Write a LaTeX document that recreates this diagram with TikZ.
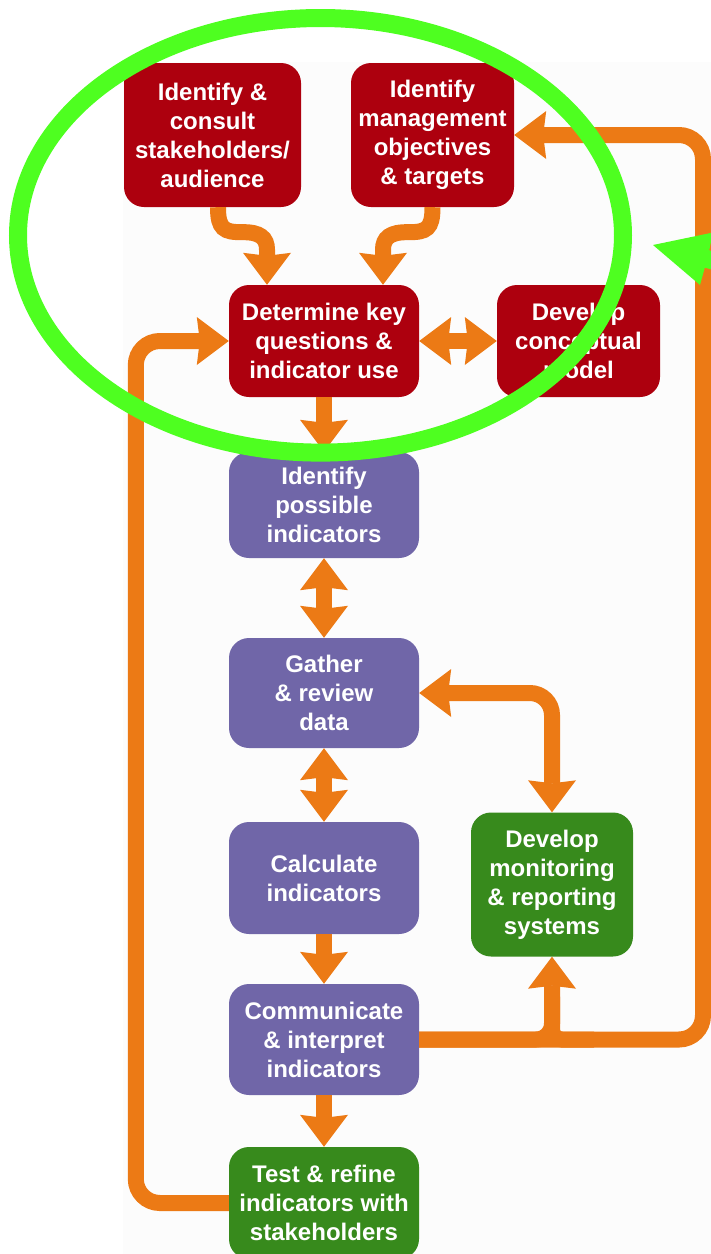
\documentclass[tikz,border=0pt]{standalone}
\usepackage{fontspec}
\setmainfont{Liberation Sans}
\usetikzlibrary{arrows.meta,calc}
\definecolor{boxred}{RGB}{173,0,14}
\definecolor{boxpurple}{RGB}{112,102,168}
\definecolor{boxgreen}{RGB}{55,138,28}
\definecolor{arrorange}{RGB}{236,122,21}
\definecolor{limemark}{RGB}{78,255,32}
\definecolor{panelgray}{RGB}{252,252,252}
\tikzset{
  box/.style={rounded corners=20pt, inner sep=0pt, align=center, text=white,
    font=\fontsize{24}{29}\selectfont\bfseries},
  redbox/.style={box, fill=boxred},
  purplebox/.style={box, fill=boxpurple},
  greenbox/.style={box, fill=boxgreen},
  conn/.style={draw=arrorange, line width=16pt},
  arrtip/.tip={Stealth[length=32pt,width=48pt,inset=3pt,line width=0pt]},
  arr/.style={conn, -arrtip},
  arrtwo/.style={conn, arrtip-arrtip},
}
\begin{document}
\begin{tikzpicture}[x=1pt,y=-1pt]
\useasboundingbox (0,0) rectangle (711,1254);
\clip (0,0) rectangle (711,1254);
\fill[white] (0,0) rectangle (711,1254);
\fill[panelgray] (123,62) rectangle (711,1254);

% boxes
\node[redbox, minimum width=177pt, minimum height=144pt] (A) at (212.5,135) {Identify \&\\consult\\stakeholders/\\audience};
\node[redbox, minimum width=163pt, minimum height=144pt] (B) at (432.5,135) {Identify\\management\\objectives\\\& targets};
\node[redbox, minimum width=190pt, minimum height=112pt] (C) at (324,341) {Determine key\\questions \&\\indicator use};
\node[redbox, minimum width=163pt, minimum height=112pt] (D) at (578.5,341) {Develop\\conceptual\\model};
\node[purplebox, minimum width=190pt, minimum height=106pt] (E) at (324,505) {Identify\\possible\\indicators};
\node[purplebox, minimum width=190pt, minimum height=110pt] (F) at (324,693) {Gather\\\& review\\data};
\node[purplebox, minimum width=190pt, minimum height=112pt] (G) at (324,878) {Calculate\\indicators};
\node[greenbox, minimum width=162pt, minimum height=144pt] (H) at (552,884.5) {Develop\\monitoring\\\& reporting\\systems};
\node[purplebox, minimum width=190pt, minimum height=111pt] (I) at (324,1039.5) {Communicate\\\& interpret\\indicators};
\node[greenbox, minimum width=190pt, minimum height=112pt] (J) at (324,1203) {Test \& refine\\indicators with\\stakeholders};

% curved arrows from top boxes
\coordinate (a1) at ($(A.south)+(5.5,0)$);
\coordinate (c1) at ($(C.north)+(-57,0)$);
\draw[arr] (a1) .. controls ($(a1)+(0,22)$) and ($(a1)+(6,25)$) .. ($(a1)+(24,25)$)
  .. controls ($(c1)+(-7,-53)$) and ($(c1)+(0,-47)$) .. ($(c1)+(0,-35)$) -- (c1);
\coordinate (b1) at (B.south);
\coordinate (c2) at ($(C.north)+(59,0)$);
\draw[arr] (b1) .. controls ($(b1)+(0,22)$) and ($(b1)+(-6,25)$) .. ($(b1)+(-24,25)$)
  .. controls ($(c2)+(7,-53)$) and ($(c2)+(0,-47)$) .. ($(c2)+(0,-35)$) -- (c2);

% straight arrows
\draw[arrtwo] (C.east) -- (D.west);
\draw[arr] (C.south) -- (E.north);
\draw[arrtwo] (E.south) -- (F.north);
\draw[arrtwo] (F.south) -- (G.north);
\draw[arr] (G.south) -- (I.north);
\draw[arr] (I.south) -- (J.north);

% feedback loop left
\coordinate (lc) at ($(C.west)+(-93,0)$);
\draw[arr, rounded corners=24pt] (J.west) -| (lc) -- (C.west);

% loop right to B
\coordinate (rx) at (703,0);
\draw[arr, rounded corners=24pt] (I.east) -- (I.east -| rx) |- (B.east);
% branch up to H
\draw[arr, rounded corners=16pt] (I.east) -| (H.south);
\coordinate (hb) at ($(H.south)+(0,40)$);
\coordinate (hr) at ($(I.east)+(175,0)$);
\draw[conn, rounded corners=10pt] (hb) |- (hr);
% F <-> H
\draw[arrtwo, rounded corners=22pt] (F.east) -| (H.north);

% green annotation
\draw[limemark, line width=18pt] (320.5,235.3) ellipse [x radius=302.5pt, y radius=217.3pt];
\fill[limemark] (653,245) -- (713,232.5) -- (709.2,250.3) -- (806,275) -- (802,292) -- (704.8,267.7) -- (700,285) -- cycle;
\end{tikzpicture}
\end{document}
